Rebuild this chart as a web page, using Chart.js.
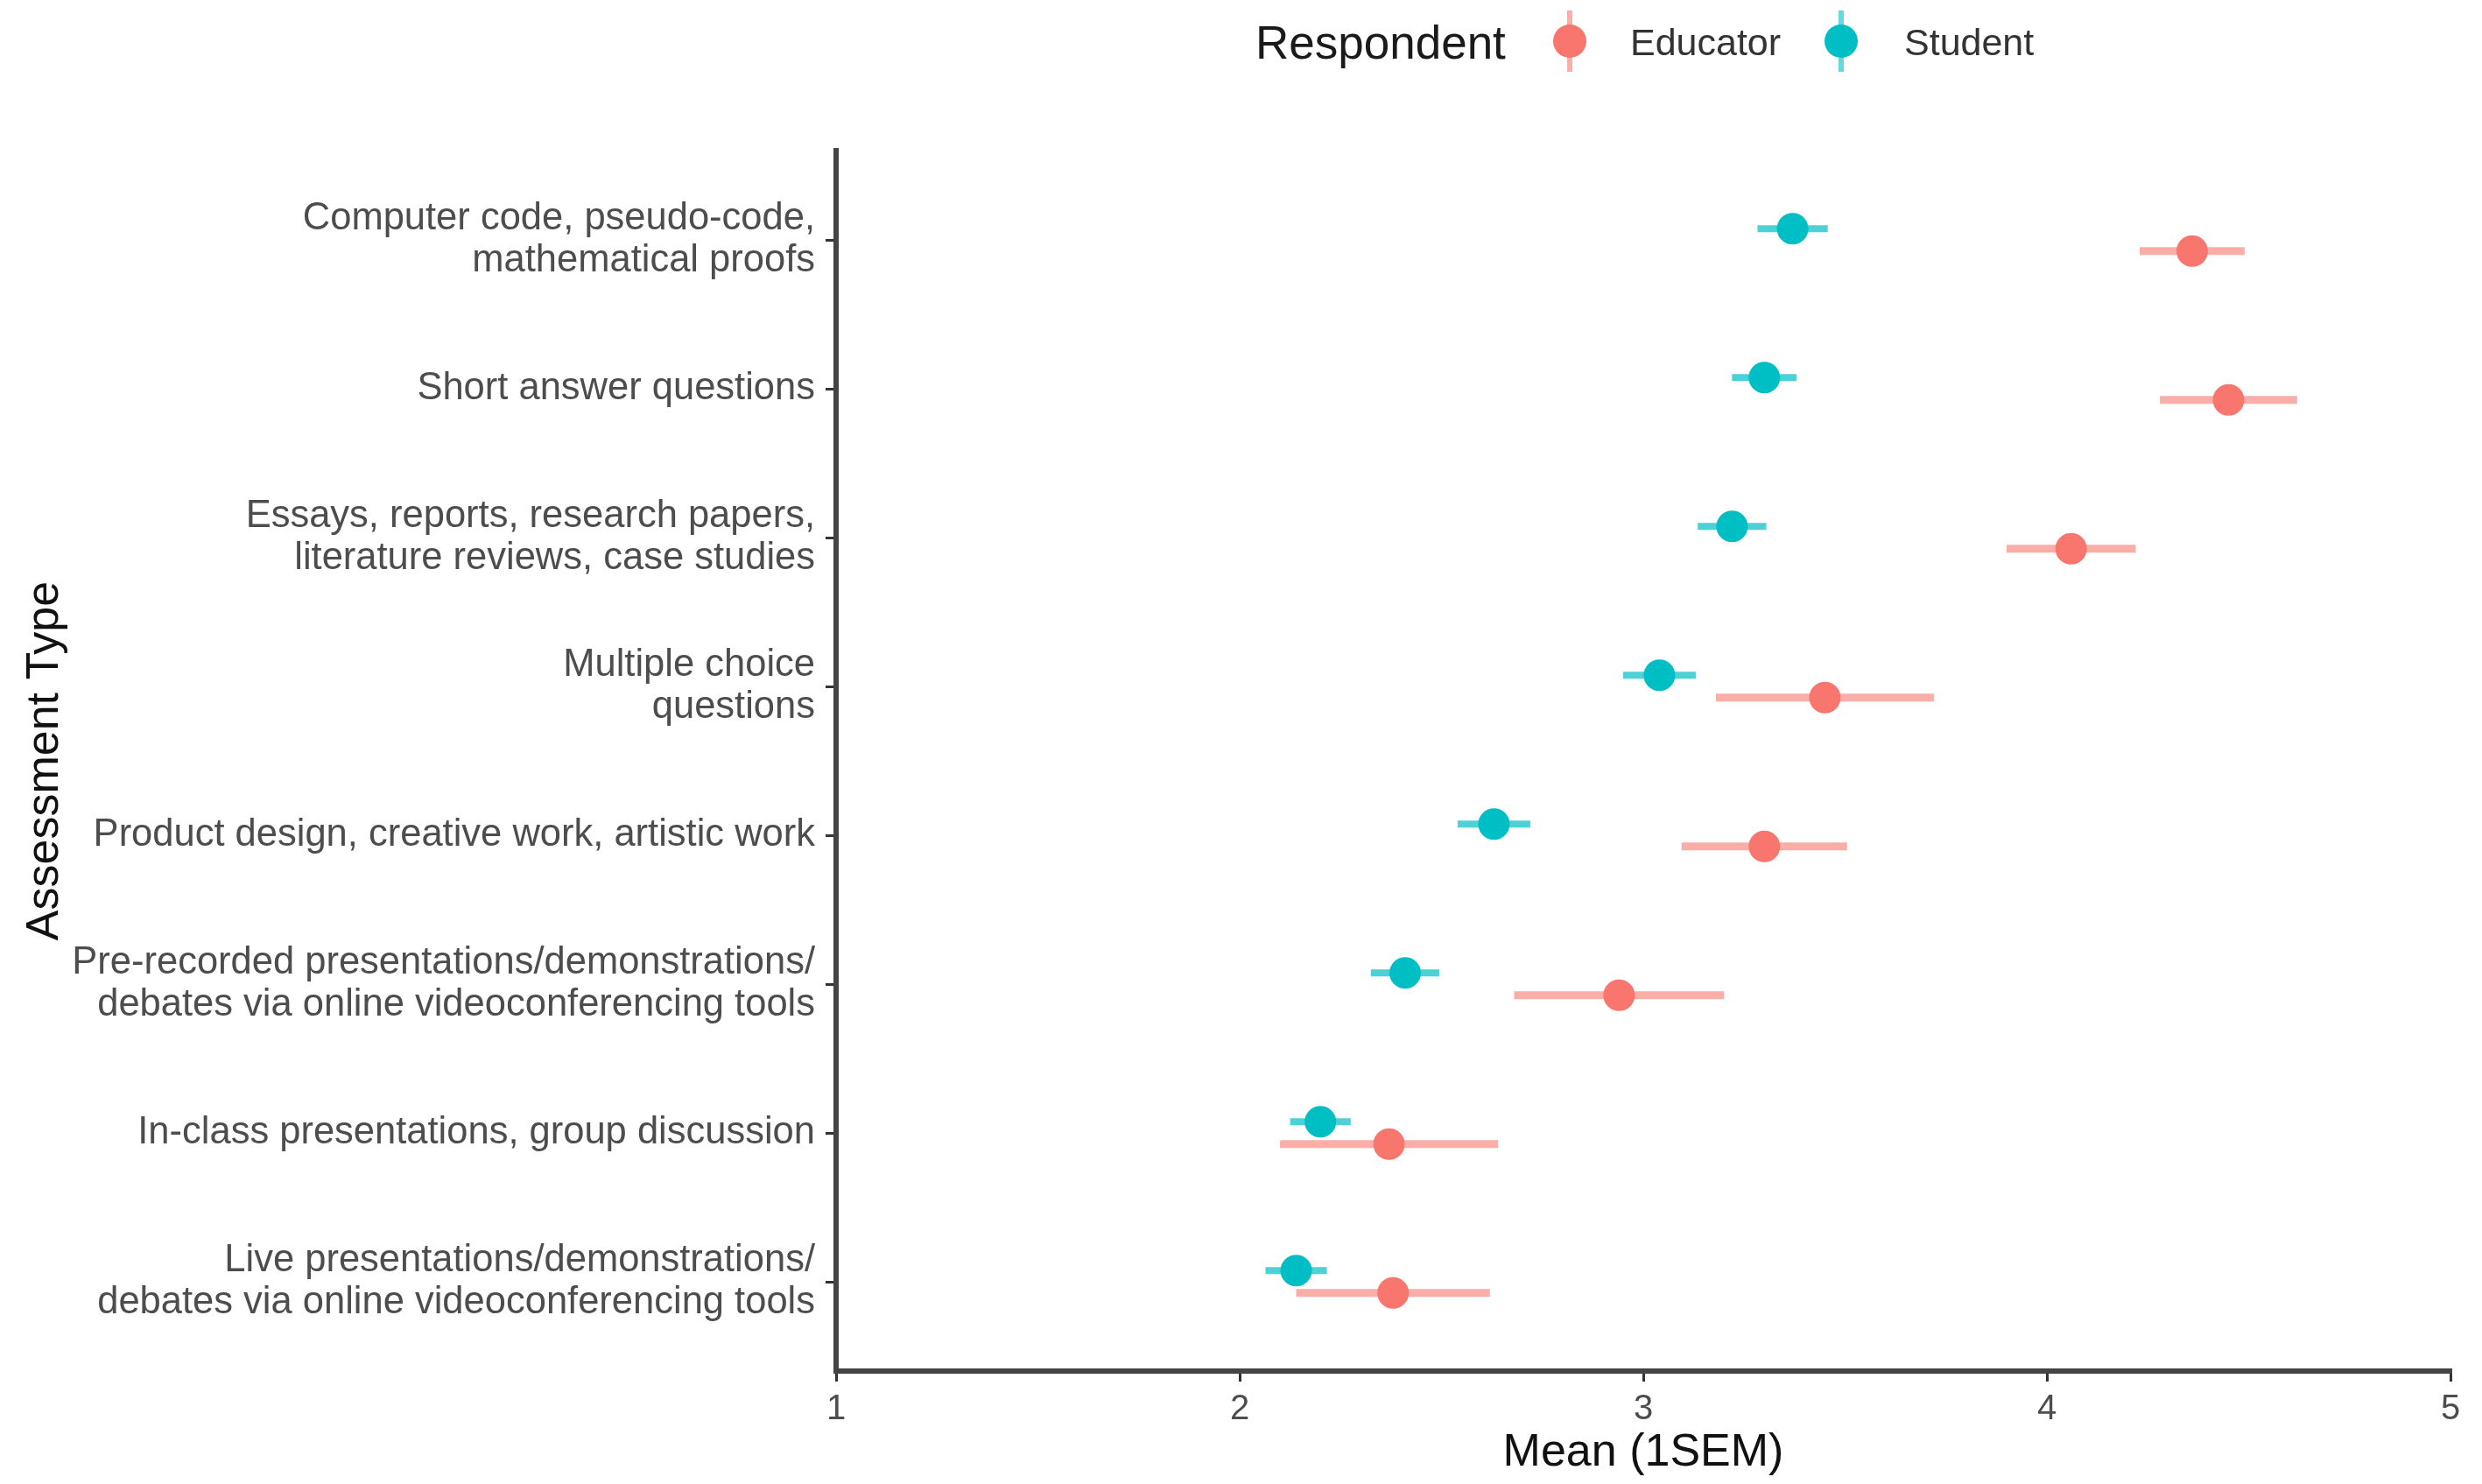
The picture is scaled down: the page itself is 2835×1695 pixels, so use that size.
<!DOCTYPE html>
<html>
<head>
<meta charset="utf-8">
<script src="https://cdn.jsdelivr.net/npm/chart.js@4.4.1/dist/chart.umd.min.js"></script>
<style>
  body { margin: 0; background: #fff; overflow: hidden; font-family: "Liberation Sans", Arial, sans-serif; }
  #wrap { position: relative; width: 2835px; height: 1695px; }
  #legend { position: absolute; top: 0; left: 0; width: 2835px; height: 100px; }
  #legend .t { position: absolute; white-space: nowrap; line-height: 1; }
  #legend .key { position: absolute; width: 40px; height: 70px; }
  #legend .key .bar { position: absolute; left: 17px; top: 0; width: 6px; height: 70px; }
  #legend .key .dot { position: absolute; left: 1px; top: 16px; width: 38px; height: 38px; border-radius: 50%; }
</style>
</head>
<body>
<div id="wrap">
  <canvas id="chart" width="2835" height="1695"></canvas>
  <div id="legend">
    <div class="t" style="left:1434px; top:22px; font-size:53px; color:#1a1a1a;">Respondent</div>
    <div class="key" style="left:1773px; top:12px;"><div class="bar" style="background:rgba(248,118,109,0.6)"></div><div class="dot" style="background:#F8766D"></div></div>
    <div class="t" style="left:1862px; top:27px; font-size:43px; color:#333;">Educator</div>
    <div class="key" style="left:2083px; top:12px;"><div class="bar" style="background:rgba(0,191,196,0.6)"></div><div class="dot" style="background:#00BFC4"></div></div>
    <div class="t" style="left:2175px; top:27px; font-size:43px; color:#333;">Student</div>
  </div>
</div>
<script>
// categories, top to bottom
const categories = [
  ['Computer code, pseudo-code,', 'mathematical proofs'],
  'Short answer questions',
  ['Essays, reports, research papers,', 'literature reviews, case studies'],
  ['Multiple choice', 'questions'],
  'Product design, creative work, artistic work',
  ['Pre-recorded presentations/demonstrations/', 'debates via online videoconferencing tools'],
  'In-class presentations, group discussion',
  ['Live presentations/demonstrations/', 'debates via online videoconferencing tools']
];
const educatorMean = [4.36, 4.45, 4.06, 3.45, 3.30, 2.94, 2.37, 2.38];
const educatorSem  = [0.13, 0.17, 0.16, 0.27, 0.205, 0.26, 0.27, 0.24];
const studentMean  = [3.37, 3.30, 3.22, 3.04, 2.63, 2.41, 2.20, 2.14];
const studentSem   = [0.087, 0.08, 0.085, 0.09, 0.09, 0.085, 0.075, 0.076];
const xTicks = [1, 2, 3, 4, 5];

const EDU = '#F8766D', STU = '#00BFC4';
const dodge = 0.075;

// points
const datasets = [
  { label: 'Educator', type: 'scatter', order: 1, backgroundColor: EDU, borderWidth: 0, pointRadius: 18,
    data: educatorMean.map((m, i) => ({ x: m, y: i + 1 + dodge })) },
  { label: 'Student', type: 'scatter', order: 1, backgroundColor: STU, borderWidth: 0, pointRadius: 18,
    data: studentMean.map((m, i) => ({ x: m, y: i + 1 - dodge })) }
];
// error bars (mean +- 1 SEM) as short line segments
educatorMean.forEach((m, i) => datasets.push({ type: 'line', order: 2, borderColor: 'rgba(248,118,109,0.6)', borderWidth: 9, pointRadius: 0,
  data: [{ x: m - educatorSem[i], y: i + 1 + dodge }, { x: m + educatorSem[i], y: i + 1 + dodge }] }));
studentMean.forEach((m, i) => datasets.push({ type: 'line', order: 2, borderColor: 'rgba(0,191,196,0.7)', borderWidth: 8, pointRadius: 0,
  data: [{ x: m - studentSem[i], y: i + 1 - dodge }, { x: m + studentSem[i], y: i + 1 - dodge }] }));

const font = { family: '"Liberation Sans", Arial, sans-serif' };

new Chart(document.getElementById('chart'), {
  type: 'scatter',
  data: { datasets },
  options: {
    responsive: false, animation: false, devicePixelRatio: 1,
    layout: { padding: { top: 172, right: 36, left: 0, bottom: 0 } },
    plugins: { legend: { display: false }, tooltip: { enabled: false } },
    scales: {
      x: {
        type: 'linear', min: 1, max: 5,
        afterBuildTicks: a => { a.ticks = xTicks.map(v => ({ value: v })); },
        afterFit: a => { a.height = 129; },
        ticks: { font: { ...font, size: 40 }, color: '#4d4d4d', padding: 8 },
        grid: { drawOnChartArea: false, drawTicks: true, tickLength: 12, color: '#333', lineWidth: 3 },
        border: { display: true, color: '#444', width: 6 },
        title: { display: true, text: 'Mean (1SEM)', font: { ...font, size: 52 }, color: '#111', padding: { top: 0, bottom: 4 } }
      },
      y: {
        type: 'linear', min: 0.4, max: 8.6, reverse: true,
        afterBuildTicks: a => { a.ticks = categories.map((c, i) => ({ value: i + 1 })); },
        afterFit: a => { a.width = 955; },
        ticks: { font: { ...font, size: 43.5, lineHeight: 1.1 }, color: '#4d4d4d', padding: 12,
          callback: v => categories[v - 1] },
        grid: { drawOnChartArea: false, drawTicks: true, tickLength: 12, color: '#333', lineWidth: 3 },
        border: { display: true, color: '#444', width: 6 },
        title: { display: true, text: 'Assessment Type', font: { ...font, size: 52 }, color: '#111', padding: { top: 20, bottom: 0 } }
      }
    }
  }
});
</script>
</body>
</html>
